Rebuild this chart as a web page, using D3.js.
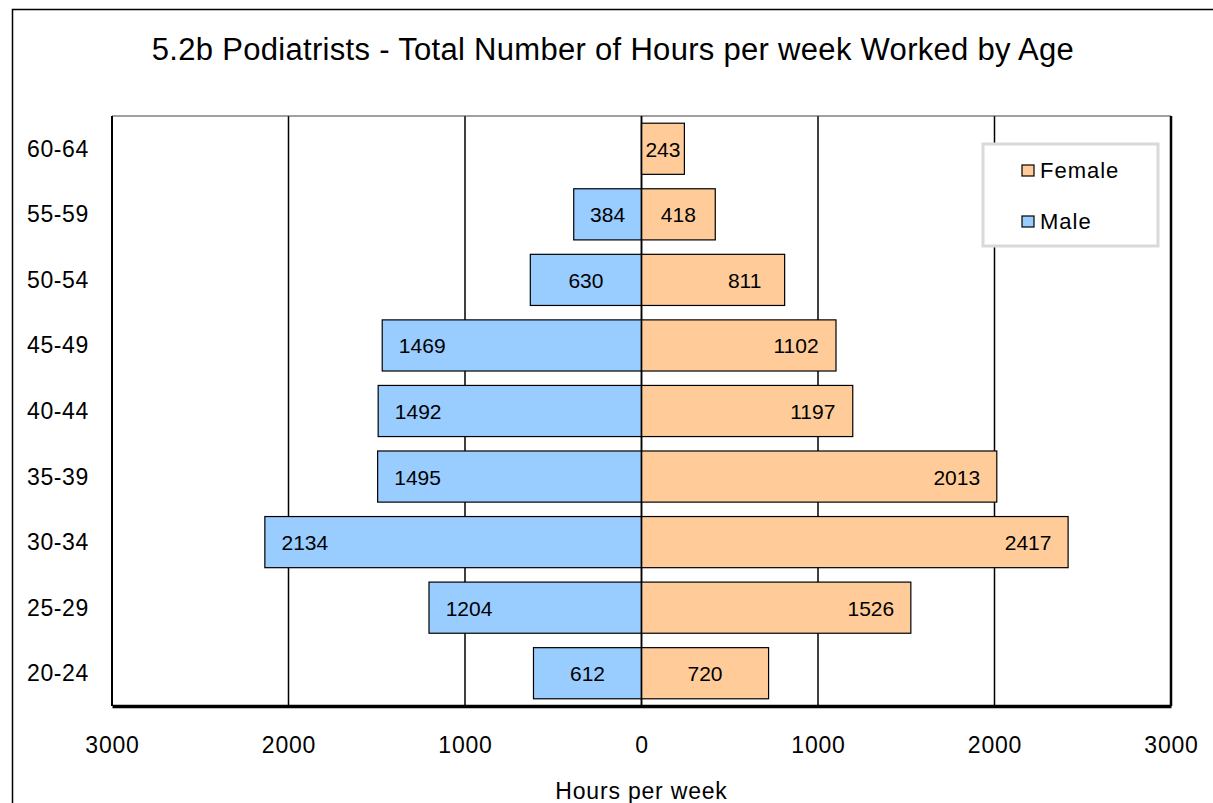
<!DOCTYPE html>
<html>
<head>
<meta charset="utf-8">
<script src="https://cdn.jsdelivr.net/npm/d3@7"></script>
<style>
  body { margin: 0; background: #fff; }
  svg { display: block; font-family: "Liberation Sans", Arial, sans-serif; }
</style>
</head>
<body>
<svg id="chart" width="1213" height="803"></svg>
<script>
// data
const ages = ["60-64", "55-59", "50-54", "45-49", "40-44", "35-39", "30-34", "25-29", "20-24"];
const male = [0, 384, 630, 1469, 1492, 1495, 2134, 1204, 612];
const female = [243, 418, 811, 1102, 1197, 2013, 2417, 1526, 720];
const xTicks = [-3000, -2000, -1000, 0, 1000, 2000, 3000];

const width = 1213, height = 803;
const marginLeft = 112, marginRight = 1171, marginTop = 116, marginBottom = 706;

const svg = d3.select("#chart");

// outer chart frame (runs off the right/bottom edge)
svg.append("rect")
    .attr("x", 12.5).attr("y", 9.5)
    .attr("width", 1230).attr("height", 830)
    .attr("fill", "none").attr("stroke", "#000").attr("stroke-width", 1.5);

svg.append("text")
    .attr("x", 613).attr("y", 60)
    .attr("text-anchor", "middle")
    .attr("font-size", 31)
    .attr("letter-spacing", 0.3)
    .attr("fill", "#000")
    .text("5.2b Podiatrists - Total Number of Hours per week Worked by Age");

const x = d3.scaleLinear()
    .domain([-3000, 3000])
    .range([marginLeft, marginRight]);

const y = d3.scaleBand()
    .domain(ages)
    .range([marginTop, marginBottom])
    .paddingInner(0.22)
    .paddingOuter(0.11);

// vertical grid
svg.append("g")
  .selectAll("line")
  .data(xTicks.slice(1, -1))
  .join("line")
    .attr("x1", d => x(d)).attr("x2", d => x(d))
    .attr("y1", marginTop).attr("y2", marginBottom)
    .attr("stroke", "#000").attr("stroke-width", 1.5);

// plot frame
svg.append("line").attr("x1", marginLeft).attr("x2", marginRight).attr("y1", marginTop).attr("y2", marginTop)
    .attr("stroke", "#444").attr("stroke-width", 1.2);
svg.append("line").attr("x1", marginLeft).attr("x2", marginLeft).attr("y1", marginTop).attr("y2", marginBottom)
    .attr("stroke", "#000").attr("stroke-width", 2);
svg.append("line").attr("x1", marginRight).attr("x2", marginRight).attr("y1", marginTop).attr("y2", marginBottom)
    .attr("stroke", "#000").attr("stroke-width", 2.5);

// bars
const rows = ages.map((a, i) => ({age: a, male: male[i], female: female[i]}));

const bars = svg.append("g");
bars.selectAll("rect.m")
  .data(rows.filter(d => d.male > 0))
  .join("rect")
    .attr("class", "m")
    .attr("x", d => x(-d.male))
    .attr("y", d => y(d.age))
    .attr("width", d => x(0) - x(-d.male))
    .attr("height", y.bandwidth())
    .attr("fill", "#99ccff")
    .attr("stroke", "#000").attr("stroke-width", 1.2);

bars.selectAll("rect.f")
  .data(rows)
  .join("rect")
    .attr("class", "f")
    .attr("x", x(0))
    .attr("y", d => y(d.age))
    .attr("width", d => x(d.female) - x(0))
    .attr("height", y.bandwidth())
    .attr("fill", "#ffcc99")
    .attr("stroke", "#000").attr("stroke-width", 1.2);

// value labels: centred on short bars, near the end on long ones
const labelX = (v, sign) => {
  const w = x(v) - x(0);
  return w < 130 ? x(0) + sign * w / 2 : x(0) + sign * (w - 40);
};
svg.append("g")
  .selectAll("text")
  .data(rows.filter(d => d.male > 0))
  .join("text")
    .attr("x", d => labelX(d.male, -1))
    .attr("y", d => y(d.age) + y.bandwidth() / 2 + 8)
    .attr("text-anchor", "middle").attr("font-size", 21)
    .text(d => d.male);
svg.append("g")
  .selectAll("text")
  .data(rows)
  .join("text")
    .attr("x", d => labelX(d.female, 1))
    .attr("y", d => y(d.age) + y.bandwidth() / 2 + 8)
    .attr("text-anchor", "middle").attr("font-size", 21)
    .text(d => d.female);

// zero line
svg.append("line").attr("x1", x(0)).attr("x2", x(0)).attr("y1", marginTop).attr("y2", marginBottom)
    .attr("stroke", "#000").attr("stroke-width", 1.5);

// bottom axis
svg.append("g")
    .attr("transform", `translate(0,${marginBottom})`)
    .call(d3.axisBottom(x).tickValues(xTicks).tickFormat(d => Math.abs(d)).tickSize(0).tickPadding(31))
    .call(g => g.select(".domain").attr("stroke-width", 3.5))
    .call(g => g.selectAll("text").attr("font-size", 23).attr("fill", "#000")
        .attr("letter-spacing", 0.8)
        .attr("font-family", "Liberation Sans, Arial, sans-serif"));

svg.append("text")
    .attr("x", x(0)).attr("y", 799)
    .attr("text-anchor", "middle").attr("font-size", 23)
    .attr("letter-spacing", 0.8)
    .text("Hours per week");

// category labels
svg.append("g")
  .selectAll("text")
  .data(ages)
  .join("text")
    .attr("x", 27)
    .attr("y", d => y(d) + y.bandwidth() / 2 + 8)
    .attr("font-size", 23)
    .attr("letter-spacing", 0.6)
    .text(d => d);

// legend
const legend = svg.append("g").attr("transform", "translate(983,144)");
legend.append("rect")
    .attr("width", 175).attr("height", 102)
    .attr("fill", "#fff").attr("stroke", "#d9d9d9").attr("stroke-width", 3);
[["Female", "#ffcc99"], ["Male", "#99ccff"]].forEach(([name, c], i) => {
  const item = legend.append("g").attr("transform", `translate(39,${21 + i * 51})`);
  item.append("rect").attr("width", 12).attr("height", 11)
      .attr("fill", c).attr("stroke", "#000").attr("stroke-width", 1.2);
  item.append("text").attr("x", 18).attr("y", 13).attr("font-size", 22)
      .attr("letter-spacing", 1).text(name);
});
</script>
</body>
</html>
